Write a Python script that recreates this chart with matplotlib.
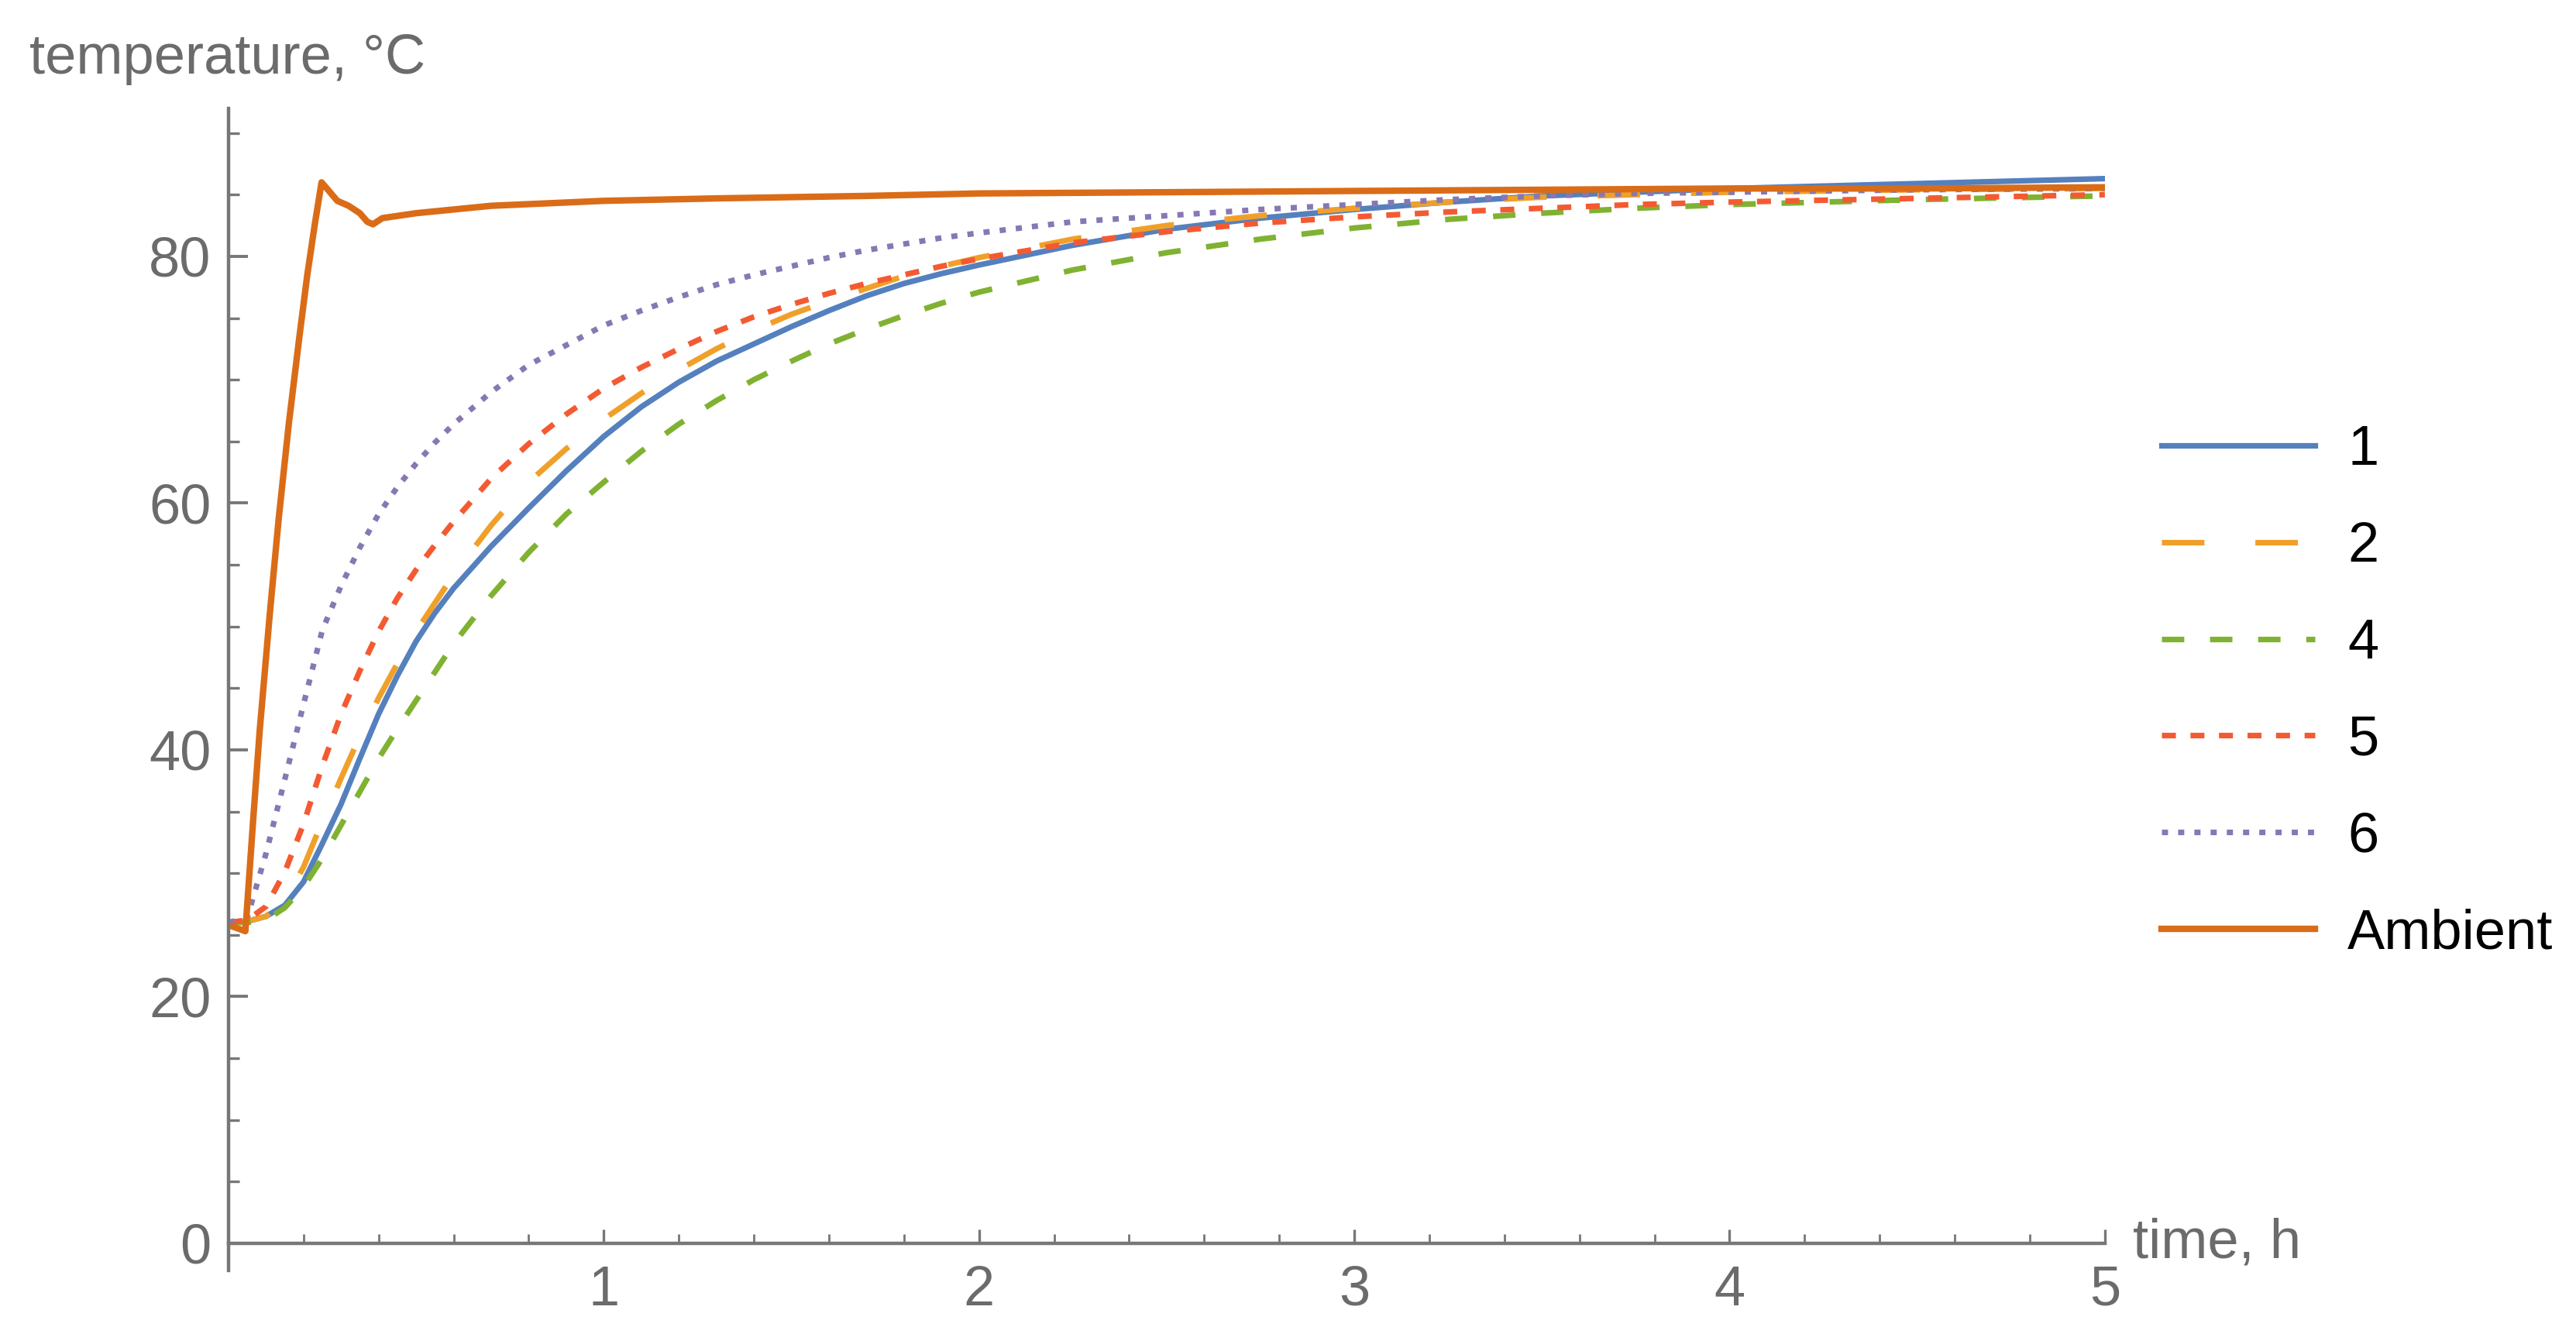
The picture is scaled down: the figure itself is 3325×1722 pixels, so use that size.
import matplotlib
matplotlib.use('Agg')
import matplotlib.pyplot as plt
from matplotlib.ticker import MultipleLocator

# Time grid (hours) shared by the five sensor curves
time_h = [0, 0.05, 0.1, 0.15, 0.2, 0.25, 0.3, 0.35, 0.4, 0.45, 0.5, 0.55, 0.6, 0.7, 0.8, 0.9,
          1.0, 1.1, 1.2, 1.3, 1.4, 1.5, 1.6, 1.7, 1.8, 1.9, 2.0, 2.25, 2.5, 2.75, 3.0,
          3.25, 3.5, 3.75, 4.0, 4.5, 5.0]

# Sensor temperatures, degC
temp_1 = [26.0, 26.1, 26.5, 27.4, 29.3, 32.4, 35.6, 39.3, 42.9, 46.0, 48.8, 51.1, 53.1, 56.5, 59.6, 62.6,
          65.4, 67.8, 69.8, 71.5, 72.9, 74.3, 75.6, 76.8, 77.8, 78.6, 79.3, 80.9, 82.2, 83.1, 83.8,
          84.4, 84.9, 85.2, 85.5, 85.9, 86.3]
temp_2 = [26.0, 26.1, 26.5, 27.8, 30.5, 34.2, 37.7, 41.1, 44.2, 47.0, 49.6, 51.9, 54.2, 58.2, 61.7, 64.4,
          66.8, 68.9, 70.8, 72.5, 74.0, 75.3, 76.4, 77.4, 78.4, 79.2, 79.9, 81.4, 82.5, 83.3, 83.9,
          84.4, 84.8, 85.0, 85.2, 85.4, 85.5]
temp_4 = [26.0, 26.0, 26.2, 27.2, 28.9, 31.2, 33.9, 36.6, 39.3, 41.7, 44.0, 46.3, 48.6, 52.5, 56.0, 59.1,
          61.7, 64.2, 66.4, 68.3, 70.0, 71.5, 72.9, 74.1, 75.2, 76.2, 77.1, 78.9, 80.3, 81.4, 82.3,
          83.0, 83.5, 83.9, 84.2, 84.6, 84.9]
temp_5 = [26.0, 26.2, 27.3, 30.1, 34.0, 38.7, 42.9, 46.4, 49.6, 52.3, 54.6, 56.6, 58.5, 62.0, 64.8, 67.2,
          69.3, 71.0, 72.5, 73.9, 75.1, 76.1, 77.0, 77.8, 78.5, 79.2, 79.8, 81.1, 82.0, 82.7, 83.2,
          83.6, 83.9, 84.2, 84.4, 84.7, 85.0]
temp_6 = [26.0, 26.4, 31.6, 37.6, 43.7, 49.7, 53.3, 56.4, 59.1, 61.3, 63.2, 64.9, 66.4, 69.0, 71.2, 72.8,
          74.4, 75.6, 76.7, 77.7, 78.5, 79.2, 79.9, 80.5, 81.0, 81.5, 81.9, 82.8, 83.3, 83.8, 84.2,
          84.6, 84.9, 85.1, 85.2, 85.4, 85.5]

# Ambient (oven) temperature has its own, denser sampling around the overshoot
ambient_time = [0, 0.045, 0.065, 0.083, 0.11, 0.134, 0.161, 0.189, 0.21, 0.23, 0.248,
                0.265, 0.29, 0.32, 0.35, 0.37, 0.385, 0.41, 0.5, 0.7, 1.0, 1.3, 1.7,
                2.0, 2.5, 3.0, 3.5, 4.0, 4.5, 5.0]
ambient_temp = [25.8, 25.3, 34.0, 41.5, 51.0, 58.8, 66.5, 73.5, 78.5, 82.6, 86.0,
                85.4, 84.5, 84.1, 83.5, 82.8, 82.6, 83.1, 83.5, 84.1, 84.5, 84.7, 84.9,
                85.1, 85.2, 85.3, 85.4, 85.5, 85.5, 85.6]

labels = ['1', '2', '4', '5', '6', 'Ambient']

plt.rcParams['font.family'] = ['Liberation Sans', 'DejaVu Sans']

fig = plt.figure(figsize=(16.625, 8.61), dpi=200)
ax = fig.add_axes([0.0887, 0.068, 0.7284, 0.8508])

lw = 2.6
ax.plot(time_h, temp_1, color='#5580BE', lw=lw, label=labels[0])
ax.plot(time_h, temp_2, color='#F0A02A', lw=lw, dashes=(7.6, 9.1), label=labels[1])
ax.plot(time_h, temp_4, color='#80B232', lw=lw, dashes=(4.0, 4.6), label=labels[2])
ax.plot(time_h, temp_5, color='#F45A32', lw=lw, dashes=(2.5, 2.6), label=labels[3])
ax.plot(time_h, temp_6, color='#8778B3', lw=lw, dashes=(1.1, 1.8), label=labels[4])
ax.plot(ambient_time, ambient_temp, color='#DA6C18', lw=3.0, label=labels[5])

ax.set_xlim(0, 5)
ax.set_ylim(0, 92)

# Mathematica-like axes: only left and bottom, gray, ticks pointing inwards
for side in ['top', 'right']:
    ax.spines[side].set_visible(False)
for side in ['left', 'bottom']:
    ax.spines[side].set_color('#777777')
    ax.spines[side].set_linewidth(1.6)
ax.spines['left'].set_bounds(-2.2, 92)

ax.xaxis.set_major_locator(MultipleLocator(1))
ax.xaxis.set_minor_locator(MultipleLocator(0.2))
ax.yaxis.set_major_locator(MultipleLocator(20))
ax.yaxis.set_minor_locator(MultipleLocator(5))
ax.set_xticks([1, 2, 3, 4, 5])

ax.tick_params(axis='both', which='both', direction='in', color='#777777',
               labelcolor='#6b6b6b', labelsize=26)
ax.tick_params(axis='y', which='major', length=9, width=1.4, pad=8)
ax.tick_params(axis='y', which='minor', length=5, width=1.2)
ax.tick_params(axis='x', which='major', length=6.5, width=1.2, pad=10)
ax.tick_params(axis='x', which='minor', length=4.5, width=1.0)

ax.text(1.015, 0, 'time, h', transform=ax.transAxes, ha='left', va='center',
        fontsize=26, color='#6b6b6b')
fig.text(0.0114, 0.9448, 'temperature, °C', ha='left', va='baseline',
         fontsize=26, color='#6b6b6b')

fig.legend(loc='center left', bbox_to_anchor=(0.839, 0.481), frameon=False,
           fontsize=26, handlelength=2.75, handletextpad=0.58, labelspacing=0.8,
           borderaxespad=0, borderpad=0)

fig.savefig('out.png', dpi=200, facecolor='white')
